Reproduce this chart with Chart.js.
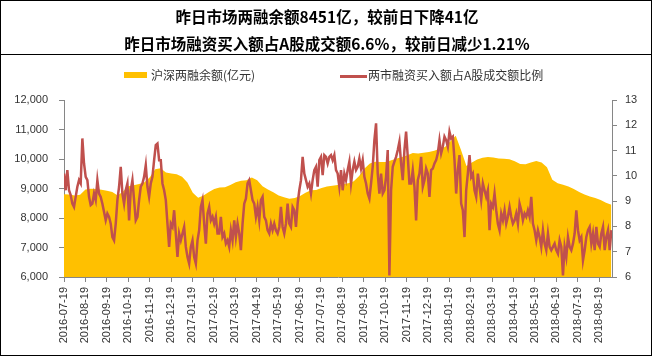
<!DOCTYPE html>
<html>
<head>
<meta charset="utf-8">
<script src="https://cdn.jsdelivr.net/npm/chart.js@4.4.0/dist/chart.umd.min.js"></script>
<style>
  html, body { margin: 0; padding: 0; background: #fff; }
</style>
</head>
<body>
<canvas id="marginCanvas" width="654" height="361"></canvas>
<script>
const titleLines = [
    '昨日市场两融余额8451亿，较前日下降41亿',
    '昨日市场融资买入额占A股成交额6.6%，较前日减少1.21%'
];

const monthLabels = [
    '2016-07-19', '2016-08-19', '2016-09-19', '2016-10-19', '2016-11-19', '2016-12-19',
    '2017-01-19', '2017-02-19', '2017-03-19', '2017-04-19', '2017-05-19', '2017-06-19',
    '2017-07-19', '2017-08-19', '2017-09-19', '2017-10-19', '2017-11-19', '2017-12-19',
    '2018-01-19', '2018-02-19', '2018-03-19', '2018-04-19', '2018-05-19', '2018-06-19',
    '2018-07-19', '2018-08-19'
];

// 沪深两融余额 (亿元), left axis
const balanceValues = [
    8806, 8800, 8760, 8790, 8970, 8990, 8980, 8960, 8920, 8885,
    8760, 8900, 9080, 9110, 9150, 9210, 9380, 9650, 9690, 9540,
    9510, 9480, 9400, 9200, 8860, 8690, 8760, 8880, 8980, 9030,
    9045, 9120, 9210, 9265, 9280, 9370, 9280, 9080, 8970, 8870,
    8760, 8700, 8650, 8680, 8750, 8860, 8940, 8950, 9020, 9070,
    9090, 9120, 9150, 9180, 9250, 9420, 9680, 9850, 9910, 9900,
    9900, 9960, 10020, 10070, 10130, 10200, 10190, 10210, 10240, 10280,
    10350, 10410, 10600, 10790, 10300, 9760, 9880, 9980, 10040, 10070,
    10050, 10020, 10010, 9990, 9920, 9830, 9825, 9880, 9930, 9880,
    9720, 9300, 9180, 9130, 9070, 8980, 8880, 8800, 8730, 8680,
    8610, 8520, 8451
];

// 两市融资买入额占A股成交额比例 (%), right axis
const ratioValues = [
    10.09, 9.43, 10.23, 9.43, 9.24, 8.90, 8.77, 9.17, 9.57, 9.83,
    9.70, 11.48, 10.49, 9.96, 9.83, 9.17, 8.84, 8.90, 9.30, 9.04,
    9.83, 9.30, 9.17, 8.90, 8.57, 8.24, 8.51, 8.38, 8.11, 7.58,
    7.45, 8.11, 9.04, 9.57, 10.36, 9.30, 8.90, 9.43, 9.70, 8.24,
    9.43, 9.83, 9.04, 8.24, 8.38, 9.04, 9.57, 9.70, 9.96, 10.42,
    9.57, 9.17, 9.70, 9.96, 10.62, 11.22, 11.28, 10.62, 10.62, 9.70,
    9.43, 9.04, 8.11, 7.19, 8.11, 7.98, 8.64, 7.72, 6.79, 7.72,
    7.45, 7.72, 7.98, 7.19, 6.79, 6.53, 7.19, 7.45, 6.79, 6.53,
    7.45, 7.85, 8.77, 9.04, 8.11, 7.32, 8.51, 8.77, 8.24, 8.38,
    8.11, 8.38, 7.72, 7.72, 8.38, 7.58, 7.72, 7.32, 7.45, 7.19,
    7.85, 7.45, 8.24, 7.58, 8.11, 7.72, 7.06, 8.11, 8.90, 9.10,
    9.70, 9.83, 9.43, 9.04, 8.90, 8.38, 8.77, 8.24, 9.04, 9.17,
    8.38, 8.24, 7.85, 7.72, 8.11, 7.85, 8.11, 7.85, 7.72, 7.98,
    8.77, 7.98, 7.72, 8.11, 8.90, 8.11, 7.98, 8.77, 8.64, 7.98,
    8.90, 9.43, 9.83, 10.75, 10.09, 9.83, 9.57, 9.70, 9.30, 9.83,
    10.23, 10.36, 9.57, 10.62, 10.75, 10.03, 10.82, 10.75, 10.49,
    10.75, 10.82, 10.62, 10.82, 10.23, 10.09, 9.57, 10.23, 9.43, 10.09,
    9.83, 10.23, 10.56, 9.70, 10.23, 10.56, 10.23, 10.36, 10.69, 10.29,
    10.62, 9.96, 9.70, 9.30, 9.10, 9.70, 10.36, 11.41, 12.08, 10.09,
    9.30, 10.09, 9.30, 9.43, 9.96, 11.02, 6.06, 9.43, 10.36, 10.56,
    10.75, 11.02, 11.35, 10.49, 9.83, 11.02, 11.75, 10.75, 9.70, 9.70,
    10.23, 9.57, 8.24, 9.83, 10.09, 10.75, 9.57, 9.83, 10.29, 10.09,
    9.17, 10.23, 10.29, 10.49, 10.62, 10.89, 11.41, 10.89, 11.15, 11.55,
    11.41, 11.15, 11.75, 11.48, 11.55, 10.62, 9.30, 10.23, 10.82, 8.90,
    8.64, 7.58, 9.43, 10.09, 10.82, 9.96, 10.09, 9.43, 9.17, 10.09,
    9.57, 9.04, 9.70, 9.43, 9.17, 9.43, 7.85, 8.90, 8.77, 9.30,
    8.64, 8.11, 7.85, 8.51, 8.24, 8.64, 8.11, 8.38, 8.77, 8.38,
    8.11, 8.24, 8.51, 8.11, 8.90, 8.64, 8.24, 8.51, 8.38, 8.64,
    8.38, 9.17, 8.11, 7.85, 7.45, 7.85, 7.58, 7.19, 7.85, 7.32,
    7.06, 7.72, 7.19, 7.06, 7.19, 7.32, 7.06, 6.92, 7.45, 7.19,
    6.06, 7.19, 6.79, 7.58, 7.19, 7.06, 7.32, 7.72, 8.64, 7.85,
    7.45, 7.58, 6.66, 7.06, 7.58, 7.85, 7.98, 7.32, 7.72, 7.06,
    7.98, 7.32, 7.19, 7.72, 7.98, 7.06, 7.58, 7.85, 7.06, 7.85
];

// both series run from 2016-07-19 to early Sep 2018 (in months after the first label)
const seriesSpan = 25.57;

const cjkFont = '"Noto Sans CJK SC", sans-serif';
const tickFont = { family: '"Liberation Sans", Arial, sans-serif', size: 11 };
const axisGray = '#868686';

function toPoints(values) {
    const step = seriesSpan / (values.length - 1);
    return values.map((v, i) => ({ x: i * step, y: v }));
}

// legend row above the plot: marker box + label for each dataset
const legendItems = [
    { markX: 124, markY: 72, markW: 23, markH: 6, textX: 151 },
    { markX: 340, markY: 75, markW: 27, markH: 3, textX: 368 }
];

const legendRowPlugin = {
    id: 'legendRow',
    afterDraw(chart) {
        const ctx = chart.ctx;
        ctx.save();
        ctx.font = '12px ' + cjkFont;
        ctx.textBaseline = 'middle';
        ctx.textAlign = 'left';
        chart.data.datasets.forEach((ds, i) => {
            const item = legendItems[i];
            ctx.fillStyle = ds.legendColor;
            ctx.fillRect(item.markX, item.markY, item.markW, item.markH);
            ctx.fillStyle = '#333';
            ctx.fillText(ds.label, item.textX, 75);
        });
        ctx.restore();
    }
};

const framePlugin = {
    id: 'frame',
    afterDraw(chart) {
        const ctx = chart.ctx;
        ctx.save();
        ctx.strokeStyle = '#000';
        ctx.lineWidth = 1;
        ctx.strokeRect(0.5, 0.5, 651, 355);
        ctx.beginPath();
        ctx.moveTo(0, 54.5);
        ctx.lineTo(652, 54.5);
        ctx.stroke();
        ctx.restore();
    }
};

new Chart(document.getElementById('marginCanvas'), {
    type: 'line',
    data: {
        datasets: [{
            label: '沪深两融余额(亿元)',
            data: toPoints(balanceValues),
            yAxisID: 'y',
            backgroundColor: '#FFC000',
            borderColor: '#FFC000',
            legendColor: '#FFC000',
            borderWidth: 0,
            fill: 'start',
            pointRadius: 0,
            order: 2
        }, {
            label: '两市融资买入额占A股成交额比例',
            data: toPoints(ratioValues),
            yAxisID: 'y1',
            borderColor: '#C0504D',
            legendColor: '#C0504D',
            borderWidth: 2.5,
            fill: false,
            pointRadius: 0,
            order: 1
        }]
    },
    options: {
        responsive: false,
        animation: false,
        layout: { padding: 0 },
        plugins: {
            title: {
                display: true,
                text: titleLines,
                color: '#000',
                font: { family: cjkFont, size: 15.5, weight: 'bold', lineHeight: '27px' },
                padding: { top: 3.5, bottom: 42.5 }
            },
            legend: { display: false },
            tooltip: { enabled: false }
        },
        scales: {
            x: {
                type: 'linear',
                min: 0,
                max: 25.6,
                afterBuildTicks: axis => {
                    axis.ticks = monthLabels.map((_, i) => ({ value: i }));
                },
                afterFit: axis => { axis.height = 84; },
                ticks: {
                    autoSkip: false,
                    minRotation: 90,
                    maxRotation: 90,
                    padding: 5,
                    color: '#333',
                    font: tickFont,
                    callback: value => monthLabels[value]
                },
                grid: { drawOnChartArea: false, tickLength: 5, color: axisGray },
                border: { color: axisGray }
            },
            y: {
                position: 'left',
                min: 6000,
                max: 12000,
                afterFit: axis => { axis.width = 64; },
                ticks: {
                    stepSize: 1000,
                    padding: 11,
                    color: '#333',
                    font: tickFont,
                    callback: value => value.toLocaleString('en-US')
                },
                grid: { drawOnChartArea: false, tickLength: 5, color: axisGray },
                border: { color: axisGray }
            },
            y1: {
                position: 'right',
                min: 6,
                max: 13,
                afterFit: axis => { axis.width = 42; },
                ticks: {
                    stepSize: 1,
                    padding: 8,
                    color: '#333',
                    font: tickFont
                },
                grid: { drawOnChartArea: false, tickLength: 5, color: axisGray },
                border: { color: axisGray }
            }
        }
    },
    plugins: [legendRowPlugin, framePlugin]
});
</script>
</body>
</html>
